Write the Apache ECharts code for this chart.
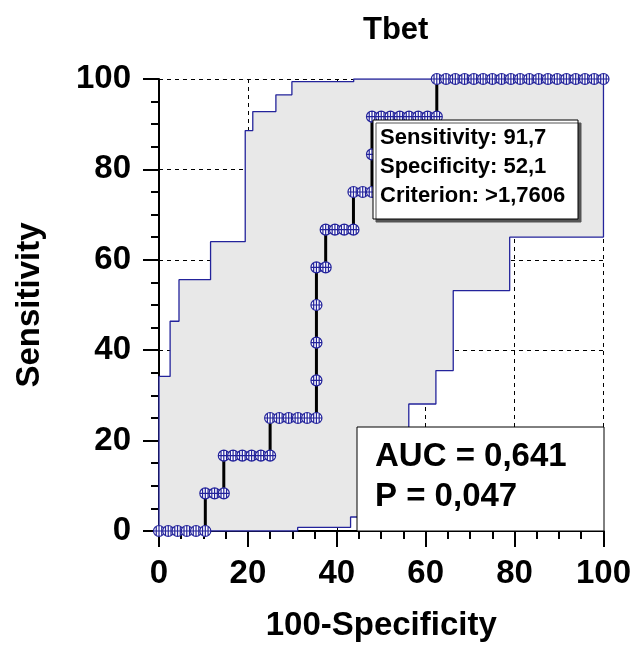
<!DOCTYPE html>
<html>
<head>
<meta charset="utf-8">
<script src="https://cdn.jsdelivr.net/npm/echarts@6/dist/echarts.min.js"></script>
<style>
html,body{margin:0;padding:0;background:#fff;}
#chart{width:634px;height:647px;}
</style>
</head>
<body>
<div id="chart"></div>
<script>
// ROC curve points (100-Specificity, Sensitivity)
const rocX = [0, 2.08, 4.17, 6.25, 8.33, 10.42,
  10.42, 12.5, 14.58,
  14.58, 16.67, 18.75, 20.83, 22.92, 25,
  25, 27.08, 29.17, 31.25, 33.33, 35.42,
  35.42, 35.42, 35.42,
  35.42, 37.5,
  37.5, 39.58, 41.67, 43.75,
  43.75, 45.83, 47.92,
  47.92,
  47.92, 50, 52.08, 54.17, 56.25, 58.33, 60.42, 62.5,
  62.5, 64.58, 66.67, 68.75, 70.83, 72.92, 75, 77.08, 79.17, 81.25, 83.33, 85.42, 87.5, 89.58, 91.67, 93.75, 95.83, 97.92, 100];
const rocY = [0, 0, 0, 0, 0, 0,
  8.33, 8.33, 8.33,
  16.67, 16.67, 16.67, 16.67, 16.67, 16.67,
  25, 25, 25, 25, 25, 25,
  33.33, 41.67, 50,
  58.33, 58.33,
  66.67, 66.67, 66.67, 66.67,
  75, 75, 75,
  83.33,
  91.67, 91.67, 91.67, 91.67, 91.67, 91.67, 91.67, 91.67,
  100, 100, 100, 100, 100, 100, 100, 100, 100, 100, 100, 100, 100, 100, 100, 100, 100, 100, 100];

// Confidence band (upper edge then lower edge)
const upperX = [0, 0, 2.5, 2.5, 4.5, 4.5, 11.6, 11.6, 19.4, 19.4, 21.1, 21.1, 26.3, 26.3, 29.9, 29.9, 43.8, 43.8, 100, 100];
const upperY = [0, 34.2, 34.2, 46.4, 46.4, 55.6, 55.6, 64.0, 64.0, 88.6, 88.6, 92.8, 92.8, 96.5, 96.5, 99.4, 99.4, 100, 100, 65.0];
const lowerX = [0, 31.2, 31.2, 43.1, 43.1, 48.0, 48.0, 52.0, 52.0, 56.2, 56.2, 62.3, 62.3, 66.2, 66.2, 78.9, 78.9, 100];
const lowerY = [0, 0, 0.8, 0.8, 3.1, 3.1, 10.4, 10.4, 18.8, 18.8, 28.1, 28.1, 35.5, 35.5, 53.2, 53.2, 65.0, 65.0];

const axisTicks = [0, 20, 40, 60, 80, 100];
const titleText = 'Tbet';
const xName = '100-Specificity';
const yName = 'Sensitivity';
const criterionLines = ['Sensitivity: 91,7', 'Specificity: 52,1', 'Criterion: >1,7606'];
const aucLines = ['AUC = 0,641', 'P = 0,047'];

const BLUE = '#23239b';
const FONT = 'Liberation Sans, Arial, sans-serif';

const chart = echarts.init(document.getElementById('chart'), null, {renderer: 'canvas'});

const upperData = upperX.map((x, i) => [x, upperY[i]]);
const lowerData = lowerX.map((x, i) => [x, lowerY[i]]);
const rocData = rocX.map((x, i) => [x, rocY[i]]);
const bandPoly = upperData.concat(lowerData.slice().reverse());

const markerPath = 'path://M0,-5A5,5,0,1,1,0,5A5,5,0,1,1,0,-5ZM-5,0L5,0M0,-5L0,5M-2.5,-4.3L-2.5,4.3M2.5,-4.3L2.5,4.3';

function axisCommon(isX) {
  return {
    type: 'value', min: axisTicks[0], max: axisTicks[axisTicks.length - 1], interval: 20,
    axisLine: {show: true, onZero: false, lineStyle: {color: '#000', width: 2}},
    axisTick: {show: true, length: 16, lineStyle: {color: '#000', width: 2}},
    minorTick: {show: true, splitNumber: 4, length: 8, lineStyle: {color: '#000', width: 2}},
    splitLine: {show: true, lineStyle: {color: '#000', width: 1, type: [4, 4]}},
    axisLabel: {color: '#000', fontFamily: FONT, fontWeight: 'bold', fontSize: 33, margin: isX ? 26 : 28},
    nameLocation: 'middle',
    nameTextStyle: {color: '#000', fontFamily: FONT, fontWeight: 'bold', fontSize: 33}
  };
}

const option = {
  animation: false,
  backgroundColor: '#fff',
  title: {text: titleText, left: 358, top: 10, textStyle: {fontFamily: FONT, fontWeight: 'bold', fontSize: 31, color: '#000'}},
  grid: {left: 159, right: 28, top: 79, bottom: 116, containLabel: false},
  xAxis: Object.assign(axisCommon(true), {name: xName, nameGap: 78}),
  yAxis: Object.assign(axisCommon(false), {name: yName, nameGap: 113}),
  series: [
    {
      type: 'custom',
      z: 1,
      silent: true,
      data: [0],
      renderItem: function (params, api) {
        const pts = bandPoly.map(p => api.coord(p));
        return {type: 'polygon', shape: {points: pts}, style: {fill: '#e8e8e8', stroke: null}};
      }
    },
    {
      type: 'line', z: 3, data: upperData, symbol: 'none', silent: true,
      lineStyle: {color: BLUE, width: 1.3}
    },
    {
      type: 'line', z: 3, data: lowerData, symbol: 'none', silent: true,
      lineStyle: {color: BLUE, width: 1.3}
    },
    {
      type: 'line', z: 5, data: rocData, symbol: markerPath, symbolSize: 11, symbolKeepAspect: true,
      showAllSymbol: true,
      lineStyle: {color: '#000', width: 3},
      itemStyle: {color: '#fff', borderColor: BLUE, borderWidth: 1.2}
    }
  ],
  graphic: [
    {type: 'rect', z: 100, shape: {x: 373, y: 120, width: 205, height: 99},
     style: {fill: '#fff', stroke: '#000', lineWidth: 1, shadowColor: '#555', shadowOffsetX: 3, shadowOffsetY: 3, shadowBlur: 0}},
    {type: 'text', z: 101, x: 380, y: 138, style: {text: criterionLines[0], font: 'bold 22px ' + FONT, fill: '#000', verticalAlign: 'middle'}},
    {type: 'text', z: 101, x: 380, y: 167, style: {text: criterionLines[1], font: 'bold 22px ' + FONT, fill: '#000', verticalAlign: 'middle'}},
    {type: 'text', z: 101, x: 380, y: 196, style: {text: criterionLines[2], font: 'bold 22px ' + FONT, fill: '#000', verticalAlign: 'middle'}},
    {type: 'rect', z: 100, shape: {x: 357, y: 427, width: 247, height: 104},
     style: {fill: '#fff', stroke: '#000', lineWidth: 1}},
    {type: 'text', z: 101, x: 375, y: 457, style: {text: aucLines[0], font: 'bold 33px ' + FONT, fill: '#000', verticalAlign: 'middle'}},
    {type: 'text', z: 101, x: 375, y: 497, style: {text: aucLines[1], font: 'bold 33px ' + FONT, fill: '#000', verticalAlign: 'middle'}}
  ]
};
chart.setOption(option);
</script>
</body>
</html>
